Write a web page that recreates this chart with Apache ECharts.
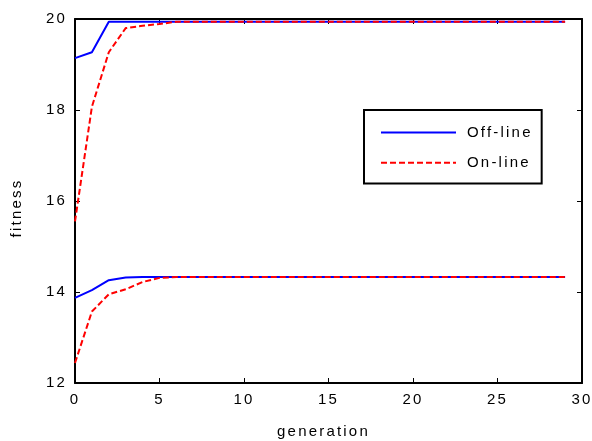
<!DOCTYPE html>
<html>
<head>
<meta charset="utf-8">
<script src="https://cdn.jsdelivr.net/npm/echarts@6/dist/echarts.min.js"></script>
<style>html,body{margin:0;padding:0;background:#fff;overflow:hidden}#c{width:592px;height:441px;overflow:hidden}</style>
</head>
<body>
<div id="c"></div>
<script>
// emulate the wide letter spacing of the original rendering
(function () {
  var proto = CanvasRenderingContext2D.prototype;
  var desc = Object.getOwnPropertyDescriptor(proto, 'font');
  if (desc && desc.set && ('letterSpacing' in proto)) {
    Object.defineProperty(proto, 'font', {
      configurable: true,
      get: function () { return desc.get.call(this); },
      set: function (v) { desc.set.call(this, v); this.letterSpacing = '2.2px'; }
    });
  }
})();

var generations = [];
for (var g = 0; g <= 29; g++) generations.push(g);

var offlineHigh = [19.14, 19.27, 19.94, 19.94, 19.94, 19.94, 19.94, 19.94, 19.94, 19.94, 19.94, 19.94, 19.94, 19.94, 19.94, 19.94, 19.94, 19.94, 19.94, 19.94, 19.94, 19.94, 19.94, 19.94, 19.94, 19.94, 19.94, 19.94, 19.94, 19.94];
var onlineHigh  = [15.55, 18.07, 19.27, 19.80, 19.85, 19.89, 19.94, 19.94, 19.94, 19.94, 19.94, 19.94, 19.94, 19.94, 19.94, 19.94, 19.94, 19.94, 19.94, 19.94, 19.94, 19.94, 19.94, 19.94, 19.94, 19.94, 19.94, 19.94, 19.94, 19.94];
var offlineLow  = [13.87, 14.04, 14.26, 14.32, 14.33, 14.33, 14.33, 14.33, 14.33, 14.33, 14.33, 14.33, 14.33, 14.33, 14.33, 14.33, 14.33, 14.33, 14.33, 14.33, 14.33, 14.33, 14.33, 14.33, 14.33, 14.33, 14.33, 14.33, 14.33, 14.33];
var onlineLow   = [12.44, 13.57, 13.95, 14.06, 14.22, 14.31, 14.33, 14.33, 14.33, 14.33, 14.33, 14.33, 14.33, 14.33, 14.33, 14.33, 14.33, 14.33, 14.33, 14.33, 14.33, 14.33, 14.33, 14.33, 14.33, 14.33, 14.33, 14.33, 14.33, 14.33];

var seriesNames = ['Off-line', 'On-line'];
var xName = 'generation';
var yName = 'fitness';

function pairs(vals) { return vals.map(function (v, i) { return [generations[i], v]; }); }

var font = 'Liberation Sans, Arial, sans-serif';
var axisCommon = {
  axisLine: { show: true, onZero: false, lineStyle: { color: '#000', width: 2 } },
  axisTick: { show: true, inside: true, length: 5, lineStyle: { color: '#000', width: 1 } },
  splitLine: { show: false }
};

var chart = echarts.init(document.getElementById('c'), null, { renderer: 'canvas', width: 592, height: 441 });
chart.setOption({
  animation: false,
  backgroundColor: '#fff',
  grid: { left: 75, top: 19, right: 10, bottom: 58, containLabel: false, outerBoundsMode: 'none' },
  xAxis: [
    Object.assign({
      type: 'value', min: 0, max: 30, interval: 5, position: 'bottom',
      name: xName, nameLocation: 'middle', nameGap: 40,
      nameTextStyle: { color: '#000', fontSize: 15, fontFamily: font, padding: [0, 10, 0, 0] },
      axisLabel: { color: '#000', fontSize: 15, fontFamily: font, margin: 8 }
    }, axisCommon),
    Object.assign({
      type: 'value', min: 0, max: 30, interval: 5, position: 'top',
      axisLabel: { show: false }
    }, axisCommon)
  ],
  yAxis: [
    Object.assign({
      type: 'value', min: 12, max: 20, interval: 2, position: 'left',
      name: yName, nameLocation: 'middle', nameGap: 50, nameRotate: 90,
      nameTextStyle: { color: '#000', fontSize: 15, fontFamily: font, padding: [0, 14, 0, 0] },
      axisLabel: { color: '#000', fontSize: 15, fontFamily: font, margin: 8 }
    }, axisCommon),
    Object.assign({
      type: 'value', min: 12, max: 20, interval: 2, position: 'right',
      axisLabel: { show: false }
    }, axisCommon)
  ],
  legend: {
    left: 364, top: 110, orient: 'vertical',
    backgroundColor: '#fff',
    borderColor: '#000', borderWidth: 2, borderRadius: 0,
    padding: [14, 9, 12, 16],
    itemWidth: 75, itemHeight: 14, itemGap: 13,
    itemStyle: { color: 'transparent', borderWidth: 0, opacity: 0 },
    textStyle: { color: '#000', fontSize: 15, fontFamily: font, padding: [0, 0, 0, 6] },
    data: seriesNames
  },
  series: [
    { name: seriesNames[0], type: 'line', data: pairs(offlineHigh), symbol: 'none', lineStyle: { color: '#0000ff', width: 2, type: 'solid' }, itemStyle: { color: '#0000ff' }, z: 2 },
    { name: seriesNames[1], type: 'line', data: pairs(onlineHigh), symbol: 'none', lineStyle: { color: '#ff0000', width: 2, type: [6, 3] }, itemStyle: { color: '#ff0000' }, z: 3 },
    { name: seriesNames[0], type: 'line', data: pairs(offlineLow), symbol: 'none', lineStyle: { color: '#0000ff', width: 2, type: 'solid' }, itemStyle: { color: '#0000ff' }, z: 2 },
    { name: seriesNames[1], type: 'line', data: pairs(onlineLow), symbol: 'none', lineStyle: { color: '#ff0000', width: 2, type: [6, 3] }, itemStyle: { color: '#ff0000' }, z: 3 }
  ]
});
</script>
</body>
</html>
